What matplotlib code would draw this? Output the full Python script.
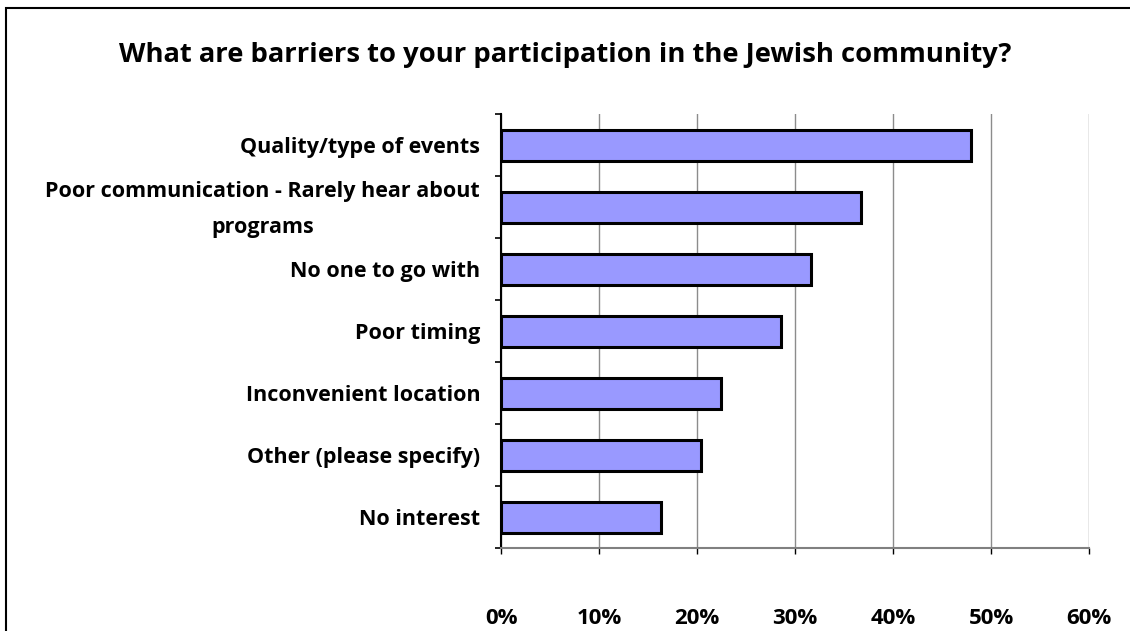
import matplotlib
matplotlib.use("Agg")
import matplotlib.pyplot as plt
from matplotlib.patches import Rectangle
from matplotlib.ticker import FuncFormatter, FixedLocator
from matplotlib.transforms import ScaledTranslation

plt.rcParams['font.family'] = ['Open Sans', 'DejaVu Sans']

# data, top to bottom
categories = [
    'Quality/type of events',
    'Poor communication - Rarely hear about\nprograms',
    'No one to go with',
    'Poor timing',
    'Inconvenient location',
    'Other (please specify)',
    'No interest',
]
values = [48.0, 36.7, 31.6, 28.6, 22.4, 20.4, 16.3]
xticks = [0, 10, 20, 30, 40, 50, 60]

fig = plt.figure(figsize=(11.3, 6.31), dpi=100)
ax = fig.add_axes([501 / 1130, 1 - 548 / 631, 588 / 1130, 434 / 631])

# outer chart border (only top and left edges visible)
fig.patches.append(Rectangle((6 / 1130, -0.1), 1.2, 1 - 8 / 631 + 0.1,
                             transform=fig.transFigure, fill=False,
                             edgecolor='black', linewidth=1.5))

n = len(categories)
pos = list(range(n))
ax.barh(pos, values, height=0.5, color='#9999ff', edgecolor='black',
        linewidth=2.2, zorder=3)

ax.set_ylim(n - 0.5, -0.5)
ax.set_xlim(0, 60)
ax.xaxis.set_major_locator(FixedLocator(xticks))
ax.xaxis.set_major_formatter(FuncFormatter(lambda v, p: f'{v:.0f}%'))
ax.grid(axis='x', color='#8c8c8c', linewidth=1, zorder=0)

# y ticks at category boundaries, labels at centers
ax.set_yticks([i - 0.5 for i in range(n + 1)])
ax.set_yticklabels([])
ax.set_yticks(pos, minor=True)
ax.set_yticklabels(categories, minor=True, fontsize=15.5, fontweight='bold',
                   multialignment='center', linespacing=2.0)
ax.tick_params(axis='y', which='minor', length=0, pad=15)
ax.tick_params(axis='y', which='major', length=4.5, width=1.2, color='black')
ax.tick_params(axis='x', length=4, width=1, color='black', pad=39,
               labelsize=16)
for lab in ax.get_xticklabels():
    lab.set_fontweight('bold')

# the wrapped label sits a bit higher than its category centre
wrapped = ax.get_yticklabels(minor=True)[1]
wrapped.set_transform(wrapped.get_transform() +
                      ScaledTranslation(0, 0.08, fig.dpi_scale_trans))

for s in ['top', 'right']:
    ax.spines[s].set_visible(False)
ax.spines['left'].set_color('black')
ax.spines['left'].set_linewidth(1.5)
ax.spines['bottom'].set_color('#808080')
ax.spines['bottom'].set_linewidth(1.5)

fig.text(565 / 1130, 1 - 55 / 631,
         'What are barriers to your participation in the Jewish community?',
         ha='center', va='center', fontsize=19.7, fontweight='bold')

fig.savefig('out.png', dpi=100)
